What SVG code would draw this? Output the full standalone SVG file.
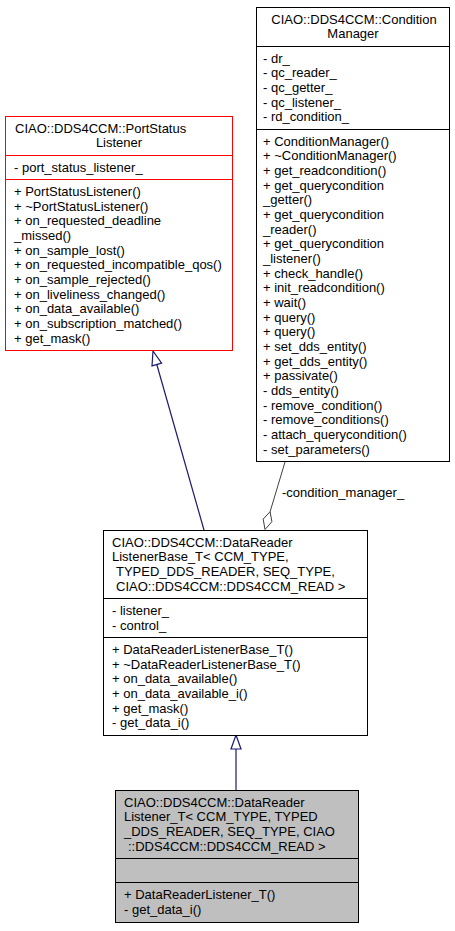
<svg xmlns="http://www.w3.org/2000/svg" width="455" height="931" viewBox="0 0 455 931">
<style>
text{font-family:"Liberation Sans",Arial,sans-serif;font-size:13px;fill:#000}
.c{text-anchor:middle}
.box{fill:#fff;stroke:#000;stroke-width:1}
.red{stroke:#ff0000}
.cur{fill:#bfbfbf}
.sep{stroke:#000;stroke-width:1}
.sepr{stroke:#ff0000;stroke-width:1}
.gen{stroke:#191970;stroke-width:1.2;fill:none}
.genh{stroke:#191970;stroke-width:1.2;fill:#fff}
.agg{stroke:#404040;stroke-width:1;fill:none}
.aggh{stroke:#404040;stroke-width:1;fill:#fff}
</style>
<rect width="455" height="931" fill="#fff"/>
<g id="connectors">
<line class="gen" x1="204" y1="530" x2="156.8" y2="364.5"/>
<polygon class="genh" points="153,351 161.6,363.1 152,365.9"/>
<line class="gen" x1="236" y1="790" x2="236" y2="749"/>
<polygon class="genh" points="236,735 241,749 231,749"/>
<line class="agg" x1="285" y1="462" x2="270.1" y2="511.7"/>
<polygon class="aggh" points="265,529.5 263.2,519.1 270.1,511.7 271.9,521.7"/>
<text x="282" y="497">-condition_manager_</text>
</g>
<g id="PortStatusListener">
<rect class="box red" x="5.5" y="116.5" width="227" height="234"/>
<line class="sepr" x1="5.5" y1="155.5" x2="232.5" y2="155.5"/>
<line class="sepr" x1="5.5" y1="179.5" x2="232.5" y2="179.5"/>
<text x="15" y="132.7">CIAO::DDS4CCM::PortStatus</text>
<text class="c" x="119" y="147.3">Listener</text>
<text x="14" y="171.7">- port_status_listener_</text>
<text x="14" y="196">+ PortStatusListener()</text>
<text x="14" y="210.7">+ ~PortStatusListener()</text>
<text x="14" y="225.3">+ on_requested_deadline</text>
<text x="14" y="240">_missed()</text>
<text x="14" y="254.7">+ on_sample_lost()</text>
<text x="14" y="269.3">+ on_requested_incompatible_qos()</text>
<text x="14" y="284">+ on_sample_rejected()</text>
<text x="14" y="298.7">+ on_liveliness_changed()</text>
<text x="14" y="313.3">+ on_data_available()</text>
<text x="14" y="328">+ on_subscription_matched()</text>
<text x="14" y="342.7">+ get_mask()</text>
</g>
<g id="ConditionManager">
<rect class="box" x="256.5" y="7.5" width="193" height="454"/>
<line class="sep" x1="256.5" y1="46.5" x2="449.5" y2="46.5"/>
<line class="sep" x1="256.5" y1="129.5" x2="449.5" y2="129.5"/>
<text class="c" x="354" y="23.7">CIAO::DDS4CCM::Condition</text>
<text class="c" x="353" y="38.3">Manager</text>
<text x="263" y="62.7">- dr_</text>
<text x="263" y="77.3">- qc_reader_</text>
<text x="263" y="92">- qc_getter_</text>
<text x="263" y="106.7">- qc_listener_</text>
<text x="263" y="121.3">- rd_condition_</text>
<text x="263" y="145.7">+ ConditionManager()</text>
<text x="263" y="160.3">+ ~ConditionManager()</text>
<text x="263" y="175">+ get_readcondition()</text>
<text x="263" y="189.7">+ get_querycondition</text>
<text x="263" y="204.3">_getter()</text>
<text x="263" y="219">+ get_querycondition</text>
<text x="263" y="233.7">_reader()</text>
<text x="263" y="248.3">+ get_querycondition</text>
<text x="263" y="263">_listener()</text>
<text x="263" y="277.7">+ check_handle()</text>
<text x="263" y="292.3">+ init_readcondition()</text>
<text x="263" y="307">+ wait()</text>
<text x="263" y="321.7">+ query()</text>
<text x="263" y="336.3">+ query()</text>
<text x="263" y="351">+ set_dds_entity()</text>
<text x="263" y="365.7">+ get_dds_entity()</text>
<text x="263" y="380.3">+ passivate()</text>
<text x="263" y="395">- dds_entity()</text>
<text x="263" y="409.7">- remove_condition()</text>
<text x="263" y="424.3">- remove_conditions()</text>
<text x="263" y="439">- attach_querycondition()</text>
<text x="263" y="453.7">- set_parameters()</text>
</g>
<g id="DataReaderListenerBase_T">
<rect class="box" x="103.5" y="530.5" width="264" height="205"/>
<line class="sep" x1="103.5" y1="598.5" x2="367.5" y2="598.5"/>
<line class="sep" x1="103.5" y1="637.5" x2="367.5" y2="637.5"/>
<text x="112" y="546.7">CIAO::DDS4CCM::DataReader</text>
<text x="112" y="561.3">ListenerBase_T&lt; CCM_TYPE,</text>
<text x="116" y="576">TYPED_DDS_READER, SEQ_TYPE,</text>
<text x="116" y="590.7">CIAO::DDS4CCM::DDS4CCM_READ &gt;</text>
<text x="112" y="615">- listener_</text>
<text x="112" y="629.7">- control_</text>
<text x="112" y="654">+ DataReaderListenerBase_T()</text>
<text x="112" y="668.7">+ ~DataReaderListenerBase_T()</text>
<text x="112" y="683.3">+ on_data_available()</text>
<text x="112" y="698">+ on_data_available_i()</text>
<text x="112" y="712.7">+ get_mask()</text>
<text x="112" y="727.3">- get_data_i()</text>
</g>
<g id="DataReaderListener_T">
<rect class="box cur" x="115.5" y="790.5" width="243" height="132"/>
<line class="sep" x1="115.5" y1="858.5" x2="358.5" y2="858.5"/>
<line class="sep" x1="115.5" y1="882.5" x2="358.5" y2="882.5"/>
<text x="124" y="806.7">CIAO::DDS4CCM::DataReader</text>
<text x="124" y="821.3">Listener_T&lt; CCM_TYPE, TYPED</text>
<text x="124" y="836">_DDS_READER, SEQ_TYPE, CIAO</text>
<text x="128" y="850.7">::DDS4CCM::DDS4CCM_READ &gt;</text>
<text x="124" y="899.3">+ DataReaderListener_T()</text>
<text x="124" y="914">- get_data_i()</text>
</g>
</svg>
